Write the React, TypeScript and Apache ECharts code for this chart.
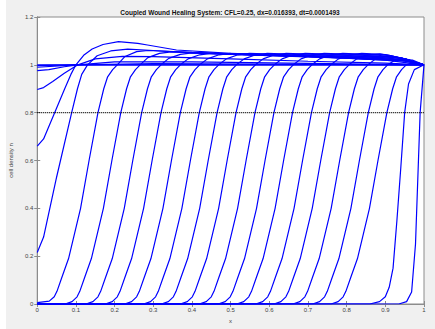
import React, { useEffect, useRef } from "react";
import * as echarts from "echarts";

const titleText = "Coupled Wound Healing System: CFL=0.25, dx=0.016393, dt=0.0001493";
const xLabel = "x";
const yLabel = "cell density n";
const thresholdValue = 0.8;

// Snapshots of the cell density n(x) as (x, n) pairs.
const front01: number[][] = [[0, 0], [0.935, 0], [0.955, 0.01], [0.968, 0.05], [0.978, 0.25], [0.99, 0.8], [1, 1]];
const front02: number[][] = [[0, 0], [0.86, 0], [0.885, 0.01], [0.9, 0.03], [0.91, 0.07], [0.92, 0.15], [0.93, 0.35], [0.94, 0.57], [0.95, 0.8], [0.96, 0.92], [0.975, 0.98], [1, 1]];
const front03: number[][] = [[0, 0], [0.76, 0], [0.778, 0.01], [0.791, 0.03], [0.798, 0.053], [0.811, 0.113], [0.828, 0.19], [0.859, 0.4], [0.881, 0.6], [0.904, 0.8], [0.919, 0.9], [0.929, 0.95], [0.942, 0.98], [0.954, 1.0], [0.974, 1.01], [1, 1]];
const front04: number[][] = [[0, 0], [0.712, 0], [0.73, 0.01], [0.743, 0.03], [0.75, 0.053], [0.763, 0.113], [0.78, 0.19], [0.811, 0.4], [0.833, 0.6], [0.856, 0.8], [0.871, 0.9], [0.881, 0.95], [0.894, 0.98], [0.906, 1.0], [0.926, 1.02], [0.95, 1.022], [0.975, 1.012], [1, 1]];
const front05: number[][] = [[0, 0], [0.661, 0], [0.679, 0.01], [0.692, 0.03], [0.699, 0.053], [0.712, 0.113], [0.729, 0.19], [0.76, 0.4], [0.782, 0.6], [0.805, 0.8], [0.82, 0.9], [0.83, 0.95], [0.843, 0.98], [0.855, 1.0], [0.875, 1.025], [0.905, 1.036], [0.95, 1.025], [0.975, 1.012], [1, 1]];
const front06: number[][] = [[0, 0], [0.612, 0], [0.63, 0.01], [0.643, 0.03], [0.65, 0.053], [0.663, 0.113], [0.68, 0.19], [0.711, 0.4], [0.733, 0.6], [0.756, 0.8], [0.771, 0.9], [0.781, 0.95], [0.794, 0.98], [0.806, 1.0], [0.826, 1.025], [0.856, 1.042], [0.886, 1.046], [0.92, 1.036], [0.95, 1.025], [0.975, 1.012], [1, 1]];
const front07: number[][] = [[0, 0], [0.565, 0], [0.583, 0.01], [0.596, 0.03], [0.603, 0.053], [0.616, 0.113], [0.633, 0.19], [0.664, 0.4], [0.686, 0.6], [0.709, 0.8], [0.724, 0.9], [0.734, 0.95], [0.747, 0.98], [0.759, 1.0], [0.779, 1.025], [0.809, 1.042], [0.839, 1.048], [0.9, 1.043], [0.95, 1.025], [0.975, 1.012], [1, 1]];
const front08: number[][] = [[0, 0], [0.516, 0], [0.534, 0.01], [0.547, 0.03], [0.554, 0.053], [0.567, 0.113], [0.584, 0.19], [0.615, 0.4], [0.637, 0.6], [0.66, 0.8], [0.675, 0.9], [0.685, 0.95], [0.698, 0.98], [0.71, 1.0], [0.73, 1.025], [0.76, 1.042], [0.79, 1.048], [0.91, 1.04], [0.95, 1.025], [0.975, 1.012], [1, 1]];
const front09: number[][] = [[0, 0], [0.468, 0], [0.486, 0.01], [0.499, 0.03], [0.506, 0.053], [0.519, 0.113], [0.536, 0.19], [0.567, 0.4], [0.589, 0.6], [0.612, 0.8], [0.627, 0.9], [0.637, 0.95], [0.65, 0.98], [0.662, 1.0], [0.682, 1.025], [0.712, 1.042], [0.742, 1.048], [0.882, 1.04], [0.95, 1.025], [0.975, 1.012], [1, 1]];
const front10: number[][] = [[0, 0], [0.419, 0], [0.437, 0.01], [0.45, 0.03], [0.457, 0.053], [0.47, 0.113], [0.487, 0.19], [0.518, 0.4], [0.54, 0.6], [0.563, 0.8], [0.578, 0.9], [0.588, 0.95], [0.601, 0.98], [0.613, 1.0], [0.633, 1.025], [0.663, 1.042], [0.693, 1.048], [0.833, 1.04], [0.92, 1.034], [0.95, 1.025], [0.975, 1.012], [1, 1]];
const front11: number[][] = [[0, 0], [0.37, 0], [0.388, 0.01], [0.401, 0.03], [0.408, 0.053], [0.421, 0.113], [0.438, 0.19], [0.469, 0.4], [0.491, 0.6], [0.514, 0.8], [0.529, 0.9], [0.539, 0.95], [0.552, 0.98], [0.564, 1.0], [0.584, 1.025], [0.614, 1.042], [0.644, 1.048], [0.784, 1.04], [0.92, 1.032], [0.95, 1.025], [0.975, 1.012], [1, 1]];
const front12: number[][] = [[0, 0], [0.321, 0], [0.339, 0.01], [0.352, 0.03], [0.359, 0.053], [0.372, 0.113], [0.389, 0.19], [0.42, 0.4], [0.442, 0.6], [0.465, 0.8], [0.48, 0.9], [0.49, 0.95], [0.503, 0.98], [0.515, 1.0], [0.535, 1.025], [0.565, 1.042], [0.595, 1.048], [0.735, 1.04], [0.935, 1.03], [0.96, 1.022], [0.98, 1.01], [1, 1]];
const front13: number[][] = [[0, 0], [0.275, 0], [0.293, 0.01], [0.306, 0.03], [0.313, 0.053], [0.326, 0.113], [0.343, 0.19], [0.374, 0.4], [0.396, 0.6], [0.419, 0.8], [0.434, 0.9], [0.444, 0.95], [0.457, 0.98], [0.469, 1.0], [0.489, 1.025], [0.519, 1.042], [0.549, 1.048], [0.689, 1.04], [0.889, 1.03], [0.95, 1.022], [0.975, 1.011], [1, 1]];
const front14: number[][] = [[0, 0], [0.226, 0], [0.244, 0.01], [0.257, 0.03], [0.264, 0.053], [0.277, 0.113], [0.294, 0.19], [0.325, 0.4], [0.347, 0.6], [0.37, 0.8], [0.385, 0.9], [0.395, 0.95], [0.408, 0.98], [0.42, 1.0], [0.44, 1.025], [0.47, 1.042], [0.5, 1.048], [0.64, 1.04], [0.84, 1.03], [0.95, 1.021], [0.975, 1.01], [1, 1]];
const front15: number[][] = [[0, 0], [0.176, 0], [0.194, 0.01], [0.207, 0.03], [0.214, 0.053], [0.227, 0.113], [0.244, 0.19], [0.275, 0.4], [0.297, 0.6], [0.32, 0.8], [0.335, 0.9], [0.345, 0.95], [0.358, 0.98], [0.37, 1.0], [0.39, 1.025], [0.42, 1.042], [0.45, 1.048], [0.59, 1.04], [0.79, 1.03], [0.97, 1.02], [1, 1]];
const front16: number[][] = [[0, 0], [0.126, 0], [0.144, 0.01], [0.157, 0.03], [0.164, 0.053], [0.177, 0.113], [0.194, 0.19], [0.225, 0.4], [0.247, 0.6], [0.27, 0.8], [0.285, 0.9], [0.295, 0.95], [0.308, 0.98], [0.32, 1.0], [0.34, 1.027], [0.37, 1.044], [0.4, 1.05], [0.54, 1.042], [0.74, 1.032], [0.94, 1.02], [0.97, 1.012], [1, 1]];
const front17: number[][] = [[0, 0], [0.072, 0], [0.09, 0.01], [0.103, 0.03], [0.11, 0.053], [0.123, 0.113], [0.14, 0.19], [0.171, 0.4], [0.193, 0.6], [0.216, 0.8], [0.231, 0.9], [0.241, 0.95], [0.254, 0.98], [0.266, 1.0], [0.286, 1.03], [0.316, 1.048], [0.346, 1.054], [0.486, 1.046], [0.686, 1.036], [0.886, 1.026], [0.95, 1.018], [1, 1]];
const front18: number[][] = [[0, 0.006], [0.031, 0.012], [0.044, 0.03], [0.051, 0.053], [0.064, 0.113], [0.081, 0.19], [0.112, 0.4], [0.134, 0.6], [0.157, 0.8], [0.172, 0.9], [0.182, 0.95], [0.195, 0.98], [0.207, 1.0], [0.227, 1.035], [0.257, 1.055], [0.287, 1.06], [0.4, 1.052], [0.6, 1.04], [0.8, 1.03], [0.95, 1.017], [1, 1]];
const front19: number[][] = [[0, 0.215], [0.0164, 0.28], [0.05, 0.53], [0.089, 0.8], [0.104, 0.9], [0.115, 0.96], [0.13, 1.0], [0.155, 1.038], [0.19, 1.058], [0.234, 1.066], [0.3, 1.06], [0.4, 1.05], [0.6, 1.038], [0.8, 1.028], [0.95, 1.015], [1, 1]];
const front20: number[][] = [[0, 0.66], [0.0164, 0.69], [0.045, 0.8], [0.071, 0.9], [0.087, 0.96], [0.1, 1.0], [0.12, 1.04], [0.142, 1.066], [0.17, 1.085], [0.21, 1.097], [0.26, 1.09], [0.285, 1.083], [0.36, 1.062], [0.5, 1.048], [0.7, 1.035], [0.9, 1.02], [1, 1]];
const late01: number[][] = [[0, 0.897], [0.0164, 0.905], [0.04, 0.93], [0.07, 0.965], [0.105, 1.0], [0.15, 1.025], [0.22, 1.035], [0.3, 1.034], [0.5, 1.025], [0.7, 1.015], [0.9, 1.007], [1, 1]];
const late02: number[][] = [[0, 0.976], [0.03, 0.98], [0.07, 0.992], [0.105, 1.0], [0.2, 1.012], [0.4, 1.012], [0.7, 1.006], [1, 1]];
const late03: number[][] = [[0, 0.99], [0.1, 1.0], [0.3, 1.005], [1, 1]];
const late04: number[][] = [[0, 0.997], [0.1, 1.0], [1, 1.0]];
const late05: number[][] = [[0, 1.0], [1, 1.0]];

const snapshots = [
  front01, front02, front03, front04, front05, front06, front07, front08, front09, front10,
  front11, front12, front13, front14, front15, front16, front17, front18, front19, front20,
  late01, late02, late03, late04, late05,
];

const xTicks = [0, 0.1, 0.2, 0.3, 0.4, 0.5, 0.6, 0.7, 0.8, 0.9, 1];
const yTicks = [0, 0.2, 0.4, 0.6, 0.8, 1, 1.2];

export default function App() {
  const ref = useRef<HTMLDivElement>(null);
  useEffect(() => {
    if (!ref.current) return;
    const chart = echarts.init(ref.current, null, { renderer: "svg" });
    const axisColor = "#8c8c8c";
    const labelColor = "#444";
    const font = "Liberation Sans, Arial, sans-serif";
    const lineSeries = snapshots.map((d, i) => ({
      type: "line",
      name: "n" + i,
      data: d,
      showSymbol: false,
      symbol: "none",
      lineStyle: { color: "#0000ff", width: 1.2 },
      z: 3,
    }));
    const thresholdSeries = {
      type: "line",
      name: "threshold",
      data: [[xTicks[0], thresholdValue], [xTicks[xTicks.length - 1], thresholdValue]],
      showSymbol: false,
      symbol: "none",
      lineStyle: { color: "#000", width: 1.2, type: [1, 1] },
      z: 4,
    };
    chart.setOption({
      animation: false,
      backgroundColor: "#f0f0f0",
      textStyle: { fontFamily: font },
      title: {
        text: titleText,
        left: 225,
        textAlign: "center",
        top: 4,
        textStyle: { fontSize: 6.5, fontWeight: "bold", color: "#111", fontFamily: font },
      },
      graphic: [
        { type: "rect", left: 0, top: 0, shape: { width: 6, height: 329 }, style: { fill: "#fff" } },
      ],
      grid: {
        left: 27, top: 17, right: 11, bottom: 16,
        show: true, backgroundColor: "#fff", borderColor: axisColor, borderWidth: 1,
      },
      xAxis: [
        {
          type: "value", min: 0, max: 1, interval: 0.1,
          name: xLabel, nameLocation: "middle", nameGap: 14,
          nameTextStyle: { fontSize: 6, color: labelColor },
          axisLine: { show: true, lineStyle: { color: axisColor } },
          axisTick: { show: true, inside: true, length: 3, lineStyle: { color: axisColor } },
          axisLabel: { fontSize: 6, color: labelColor, margin: 3 },
          splitLine: { show: false },
        },
        {
          type: "value", min: 0, max: 1, interval: 0.1, position: "top",
          axisLine: { show: true, lineStyle: { color: axisColor } },
          axisTick: { show: true, inside: true, length: 3, lineStyle: { color: axisColor } },
          axisLabel: { show: false },
          splitLine: { show: false },
        },
      ],
      yAxis: [
        {
          type: "value", min: 0, max: 1.2, interval: 0.2,
          name: yLabel, nameLocation: "middle", nameGap: 13, nameRotate: 90,
          nameTextStyle: { fontSize: 6, color: labelColor },
          axisLine: { show: true, lineStyle: { color: axisColor } },
          axisTick: { show: true, inside: true, length: 3, lineStyle: { color: axisColor } },
          axisLabel: { fontSize: 6, color: labelColor, margin: 4 },
          splitLine: { show: false },
        },
        {
          type: "value", min: 0, max: 1.2, interval: 0.2, position: "right",
          axisLine: { show: true, lineStyle: { color: axisColor } },
          axisTick: { show: true, inside: true, length: 3, lineStyle: { color: axisColor } },
          axisLabel: { show: false },
          splitLine: { show: false },
        },
      ],
      series: [...lineSeries, thresholdSeries],
    });
    return () => chart.dispose();
  }, []);
  return (
    <div
      ref={ref}
      style={{ position: "fixed", left: 0, top: 0, width: 435, height: 329 }}
    />
  );
}
